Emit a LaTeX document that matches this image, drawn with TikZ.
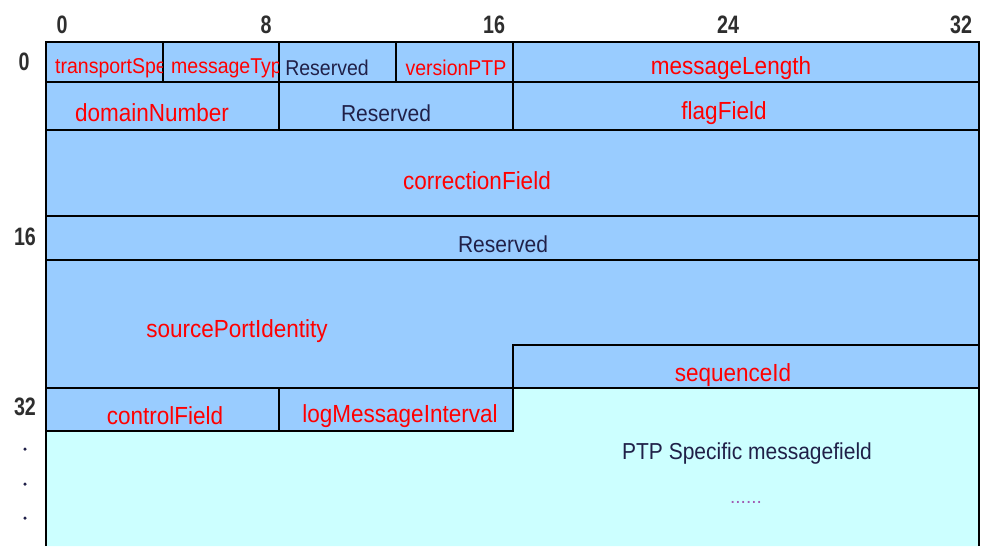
\documentclass[tikz,border=0pt]{standalone}
\usepackage{fontspec}
\setmainfont{Liberation Sans}
\begin{document}
\begin{tikzpicture}[x=1pt,y=-1pt,
  cellblue/.style={fill=ptpblue},
  cellcyan/.style={fill=ptpcyan},
  thinrule/.style={draw=black,line width=1.3pt},
  thickrule/.style={draw=black,line width=2.6pt},
  fieldname/.style={text=red,inner sep=0pt,font=\fontsize{22.5}{24}\selectfont,yscale=1.1},
  smallname/.style={text=red,inner sep=0pt,font=\fontsize{19.5}{22}\selectfont,yscale=1.1},
  plainname/.style={text=ptpdark,inner sep=0pt,font=\fontsize{21}{24}\selectfont,yscale=1.1},
  bitnum/.style={text=ptpgray,inner sep=0pt,font=\fontsize{24}{26}\selectfont\bfseries,xscale=0.82,yscale=1.05},
  sidedot/.style={circle,fill=ptpdark,inner sep=0pt,minimum size=3.5pt}
]
\definecolor{ptpblue}{HTML}{99CCFF}
\definecolor{ptpcyan}{HTML}{CCFFFF}
\definecolor{ptpdark}{HTML}{202048}
\definecolor{ptpgray}{HTML}{2E2E2E}
\useasboundingbox (0,0) rectangle (981,546);

% backgrounds of the header and of the message body
\path[cellblue] (46,42) -- (979,42) -- (979,388) -- (513,388) -- (513,431) -- (46,431) -- cycle;
\path[cellcyan] (46,431) -- (513,431) -- (513,388) -- (979,388) -- (979,546) -- (46,546) -- cycle;

% thin field separators
\draw[thinrule] (46,82) -- (979,82);
\draw[thinrule] (46,216) -- (979,216);
\draw[thinrule] (46,260) -- (979,260);
\draw[thinrule] (46,388) -- (979,388);
\draw[thinrule] (163,42) -- (163,82);
\draw[thinrule] (396,42) -- (396,82);
\draw[thinrule] (279,42) -- (279,130);
\draw[thinrule] (513,42) -- (513,130);
\draw[thinrule] (279,388) -- (279,431);

% heavy outline
\draw[thickrule] (46,546) -- (46,42) -- (979,42) -- (979,546);
\draw[thickrule] (46,130) -- (979,130);
\draw[thickrule] (46,431) -- (513,431) -- (513,345) -- (979,345);

% bit positions
\node[bitnum] (b0)  at (62,25)  {0};
\node[bitnum] (b8)  at (266,25) {8};
\node[bitnum] (b16) at (494,25) {16};
\node[bitnum] (b24) at (728,25) {24};
\node[bitnum] (b32) at (961,25) {32};

% byte offsets
\node[bitnum] (o0)  at (24,62)  {0};
\node[bitnum] (o16) at (25,237) {16};
\node[bitnum] (o32) at (25,407) {32};
\node[sidedot] (d1) at (25,449) {};
\node[sidedot] (d2) at (25,484) {};
\node[sidedot] (d3) at (25,518) {};

% first word: names cut off at the cell edge
\begin{scope}
  \clip (47,43) rectangle (162,81);
  \node[smallname,anchor=west] (transport) at (55,68) {transportSpe};
\end{scope}
\begin{scope}
  \clip (164,43) rectangle (278,81);
  \node[smallname,anchor=west] (msgtype) at (171,68) {messageTyp};
\end{scope}
\node[plainname,font=\fontsize{19.5}{22}\selectfont] (res1) at (327,68) {Reserved};
\node[smallname] (version) at (456,68) {versionPTP};
\node[fieldname] (msglen) at (731,68) {messageLength};

% second word
\node[fieldname] (domain) at (152,113) {domainNumber};
\node[plainname] (res2) at (386,113) {Reserved};
\node[fieldname] (flags) at (724,113) {flagField};

% remaining header fields
\node[fieldname] (correction) at (477,181) {correctionField};
\node[plainname] (res3) at (503,244) {Reserved};
\node[fieldname] (sourceport) at (237,331) {sourcePortIdentity};
\node[fieldname] (sequence) at (733,375) {sequenceId};
\node[fieldname] (control) at (165,416) {controlField};
\node[fieldname] (logint) at (400,416) {logMessageInterval};

% message specific part
\node[plainname] (specific) at (747,454) {PTP Specific messagefield};
\node[text=ptpdark!60!magenta!70,inner sep=0pt,font=\fontsize{19}{19}\selectfont] (more) at (746,502) {......};
\end{tikzpicture}
\end{document}
